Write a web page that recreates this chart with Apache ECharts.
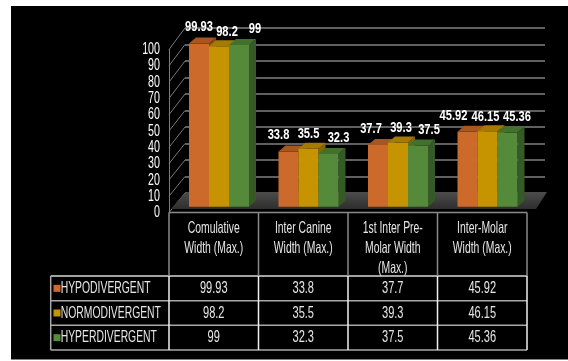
<!DOCTYPE html>
<html><head><meta charset="utf-8">
<script src="https://cdn.jsdelivr.net/npm/echarts@6/dist/echarts.min.js"></script>
<style>html,body{margin:0;padding:0;background:#fff}#c{width:568px;height:361px}</style>
</head><body><div id="c"></div>
<script>
// ---- data ----
var categories = ['Comulative\nWidth (Max.)', 'Inter Canine\nWidth (Max.)', '1st Inter Pre-\nMolar Width\n(Max.)', 'Inter-Molar\nWidth (Max.)'];
var seriesNames = ['HYPODIVERGENT', 'NORMODIVERGENT', 'HYPERDIVERGENT'];
var hypo  = [99.93, 33.8, 37.7, 45.92];
var normo = [98.2, 35.5, 39.3, 46.15];
var hyper = [99, 32.3, 37.5, 45.36];
var tableText = [
  ['99.93', '33.8', '37.7', '45.92'],
  ['98.2', '35.5', '39.3', '46.15'],
  ['99', '32.3', '37.5', '45.36']
];
var yTicks = [0, 10, 20, 30, 40, 50, 60, 70, 80, 90, 100];

// ---- style ----
var FONT = '"Liberation Sans", Arial, sans-serif';
var front = ['#CC6A2B', '#C69400', '#558A3B'];
var topC  = ['#A9561E', '#A47B00', '#42702D'];
var sideC = ['#8C4718', '#876500', '#355A26'];
var BAR_W = 20, DX = 7, DY = 6;
// horizontal nudge of each value label (per category, per series), in px
var labelNudge = [[0, 8, 16], [-10, 0, 10], [-7, 3, 11], [-14, -2, 9.5]];
var labelLift = [16.3, 14.6, 16];
var SX = 0.63;

var chart = echarts.init(document.getElementById('c'), null, {renderer: 'canvas'});
var allSeries = [hypo, normo, hyper];

function makeRender(k) {
  return function (params, api) {
    var cat = api.value(0), v = api.value(1);
    var t = api.coord([cat, v]), b = api.coord([cat, 0]);
    var cx = t[0] + (k - 1) * BAR_W;
    var x0 = cx - BAR_W / 2, x1 = cx + BAR_W / 2, yt = t[1], yb = b[1];
    return {
      type: 'group',
      children: [
        {type: 'polygon', shape: {points: [[x1, yt], [x1 + DX, yt - DY], [x1 + DX, yb - DY], [x1, yb]]}, style: {fill: sideC[k]}},
        {type: 'rect', shape: {x: x0, y: yt, width: BAR_W, height: yb - yt}, style: {fill: front[k]}},
        {type: 'polygon', shape: {points: [[x0, yt], [x1, yt], [x1 + DX, yt - DY], [x0 + DX, yt - DY]]}, style: {fill: topC[k]}},
        {type: 'text', x: cx + labelNudge[cat][k], y: yt - labelLift[k], scaleX: 0.72, z2: 10,
          style: {text: String(v), fill: '#ffffff', font: 'bold 15.5px ' + FONT, textAlign: 'center', textVerticalAlign: 'middle', align: 'center', verticalAlign: 'middle'}}
      ]
    };
  };
}

var series = allSeries.map(function (arr, k) {
  return {
    type: 'custom', name: seriesNames[k], xAxisIndex: 2, yAxisIndex: 2, z: 3,
    data: arr.map(function (v, i) { return [i, v]; }),
    encode: {x: 0, y: 1},
    renderItem: makeRender(k)
  };
});

chart.setOption({
  backgroundColor: '#000000',
  animation: false,
  grid: [
    {left: 185, top: 28, width: 360, height: 165},
    {left: 169, top: 49.5, width: 10, height: 163},
    {left: 174.25, top: 43.3, width: 358, height: 163.4}
  ],
  xAxis: [
    {gridIndex: 0, type: 'value', min: 0, max: 1, show: false},
    {gridIndex: 1, type: 'value', min: 0, max: 1, show: false},
    {gridIndex: 2, type: 'category', data: categories, show: false}
  ],
  yAxis: [
    {gridIndex: 0, type: 'value', min: 0, max: 100, interval: 10,
      axisLine: {show: false}, axisTick: {show: false}, axisLabel: {show: false},
      splitLine: {show: true, lineStyle: {color: '#808080', width: 1.5}}},
    {gridIndex: 1, type: 'value', min: 0, max: 100, interval: 10,
      axisLine: {show: true, lineStyle: {color: '#7a7a7a', width: 1}}, axisTick: {show: false},
      axisLabel: {show: false}, splitLine: {show: false}},
    {gridIndex: 2, type: 'value', min: 0, max: 100, show: false}
  ],
  series: series
});

// ---- decorations computed from the axes ----
var g = [];
var fx = chart.convertToPixel({xAxisIndex: 1}, 0);
var bx = chart.convertToPixel({xAxisIndex: 0}, 0);
var bxr = chart.convertToPixel({xAxisIndex: 0}, 1);
var yb0 = chart.convertToPixel({yAxisIndex: 0}, 0);
var yf0 = chart.convertToPixel({yAxisIndex: 1}, 0);
yTicks.forEach(function (v) {
  var yf = chart.convertToPixel({yAxisIndex: 1}, v);
  var yb = chart.convertToPixel({yAxisIndex: 0}, v);
  g.push({type: 'line', z: 1, shape: {x1: fx, y1: yf, x2: bx, y2: yb}, style: {stroke: '#7a7a7a', lineWidth: 1}});
  g.push({type: 'text', z: 5, x: fx - 9, y: yf, scaleX: SX,
    style: {text: String(v), fill: '#ffffff', font: '17px ' + FONT, textAlign: 'right', textVerticalAlign: 'middle', align: 'right', verticalAlign: 'middle'}});
});
// floor
g.push({type: 'polygon', z: 2,
  shape: {points: [[fx + 2, yf0 - 3.5], [bxr - 9, yf0 - 3.5], [bxr + 2, yb0 - 1], [bx + 1, yb0 - 1]]},
  style: {fill: new echarts.graphic.LinearGradient(0, 0, 0, 1, [{offset: 0, color: '#4c4c4c'}, {offset: 1, color: '#2e2e2e'}])}});

// table
var colW = 89.5, tL = fx, tTop = yf0, rowTop = 276, rowH = 24.67, keyL = 50.7;
var rowsB = rowTop + 3 * rowH;
g.push({type: 'line', z: 4, shape: {x1: tL, y1: tTop, x2: tL + 4 * colW, y2: tTop}, style: {stroke: '#8a8a8a', lineWidth: 1.5}});
for (var r = 0; r <= 3; r++) {
  var yy = rowTop + r * rowH;
  g.push({type: 'line', z: 4, shape: {x1: keyL, y1: yy, x2: tL + 4 * colW, y2: yy}, style: {stroke: r === 0 ? '#d8d8d8' : '#a8a8a8', lineWidth: 1.5}});
}
g.push({type: 'line', z: 4, shape: {x1: keyL, y1: rowTop, x2: keyL, y2: rowsB}, style: {stroke: '#a8a8a8', lineWidth: 1.5}});
for (var c = 0; c <= 4; c++) {
  var xx = tL + c * colW;
  g.push({type: 'line', z: 4, shape: {x1: xx, y1: tTop, x2: xx, y2: rowTop}, style: {stroke: '#8a8a8a', lineWidth: 1.5}});
  g.push({type: 'line', z: 4, shape: {x1: xx, y1: rowTop, x2: xx, y2: rowsB}, style: {stroke: '#f0f0f0', lineWidth: 1.5}});
}
categories.forEach(function (name, i) {
  g.push({type: 'text', z: 5, x: tL + (i + 0.5) * colW, y: tTop + 6, scaleX: SX,
    style: {text: name, fill: '#e6e6e6', font: '16.5px ' + FONT, lineHeight: 20, textAlign: 'center', textVerticalAlign: 'top', align: 'center', verticalAlign: 'top'}});
});
seriesNames.forEach(function (name, k) {
  var cy = rowTop + (k + 0.5) * rowH;
  g.push({type: 'rect', z: 5, shape: {x: keyL + 2.8, y: cy - 3.5, width: 7, height: 7}, style: {fill: front[k]}});
  g.push({type: 'text', z: 5, x: keyL + 10, y: cy, scaleX: 0.61,
    style: {text: name, fill: '#e6e6e6', font: '17px ' + FONT, textAlign: 'left', textVerticalAlign: 'middle', align: 'left', verticalAlign: 'middle'}});
  tableText[k].forEach(function (t, i) {
    g.push({type: 'text', z: 5, x: tL + (i + 0.5) * colW, y: cy, scaleX: 0.65,
      style: {text: t, fill: '#e6e6e6', font: '17px ' + FONT, textAlign: 'center', textVerticalAlign: 'middle', align: 'center', verticalAlign: 'middle'}});
  });
});
// page margins (white)
g.push({type: 'rect', z: 100, shape: {x: 0, y: 0, width: 11, height: 361}, style: {fill: '#ffffff'}});
g.push({type: 'rect', z: 100, shape: {x: 0, y: 0, width: 568, height: 6}, style: {fill: '#ffffff'}});
g.push({type: 'rect', z: 100, shape: {x: 0, y: 359.5, width: 568, height: 2}, style: {fill: '#ffffff'}});

chart.setOption({graphic: {elements: g}});
</script></body></html>
